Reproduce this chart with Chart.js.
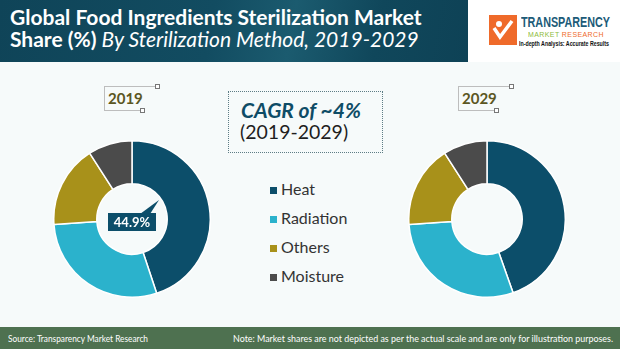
<!DOCTYPE html>
<html>
<head>
<meta charset="utf-8">
<script src="https://cdn.jsdelivr.net/npm/chart.js@4.4.0/dist/chart.umd.min.js"></script>
<style>
  body { margin: 0; width: 620px; height: 349px; overflow: hidden; position: relative;
         font-family: Lato, "Open Sans", sans-serif; background: #f6fafa; }
  .abs { position: absolute; }
  .fit { white-space: nowrap; transform-origin: 0 0; }
  #header { left: 0; top: 0; width: 468px; height: 62px;
            background: linear-gradient(100deg, #0f4458 0%, #124c61 45%, #1b5b6f 62%, #10475b 80%, #0e4256 100%); }
  #headerRight { left: 468px; top: 0; width: 152px; height: 62px; background: #fff; }
  #title { left: 10px; top: 6px; color: #fff; font-weight: bold; font-size: 21px; line-height: 22px; white-space: nowrap; }
  #title i { font-weight: normal; }
  #footer { left: 0; top: 327px; width: 620px; height: 22px; background: #4e7150; color: #fff; font-size: 10px; }
  #footer .fit { position: absolute; top: 5px; }
  .yearBox { width: 52px; height: 24px; border-top: 1px solid #bdbdbd; border-left: 1px solid #bdbdbd; }
  .yearBox .bot { position: absolute; left: -1px; top: 23px; width: 38px; height: 1px; background: #bdbdbd; }
  .yearBox .h { position: absolute; width: 3px; height: 3px; border: 1px solid #777; background: #fff; }
  .yearBox .t { position: absolute; left: 3px; top: 2px; font-weight: bold; font-size: 15px; color: #5b5622; }
  #cagr { left: 228px; top: 91px; width: 153px; height: 60px; border: 1.5px dotted #5d7c84; }
  #cagr .a { position: absolute; left: 12px; top: 5px; font-size: 21px; font-weight: bold; font-style: italic; color: #0e4c66; white-space: nowrap; }
  #cagr .b { position: absolute; left: 11px; top: 28px; font-size: 19.5px; color: #1e1e1e; white-space: nowrap; }
  #legend { left: 268px; top: 179px; }
  .item { position: absolute; left: 0; height: 20px; white-space: nowrap; font-size: 16px; color: #333; }
  .item .sw { position: absolute; left: 2px; top: 8px; width: 7px; height: 7px; }
  .item .lb { position: absolute; left: 13px; top: 0; }
  #logoBox { left: 489px; top: 15px; width: 28px; height: 30px; background: #ef6a2a; }
  #logo1 { left: 521px; top: 14px; font-size: 14px; font-weight: bold; color: #1c5b78; font-family: "Liberation Sans Narrow", "Liberation Sans", sans-serif; }
  #logo2 { left: 528px; top: 30px; font-size: 8px; font-family: "Liberation Sans", sans-serif; letter-spacing: 0.5px; }
  #logo3 { left: 519px; top: 40px; font-size: 6.5px; font-weight: bold; color: #111; font-family: "Liberation Sans", sans-serif; }
</style>
</head>
<body>
<div id="header" class="abs"></div>
<div id="headerRight" class="abs"></div>
<div id="title" class="abs">Global Food Ingredients Sterilization Market<br>Share (%) <i>By Sterilization Method, 2019-2029</i></div>

<div id="logoBox" class="abs">
  <svg width="28" height="30" viewBox="0 0 28 30"><path d="M5 13 L11 22 L23 6" stroke="#fff" stroke-width="3.5" fill="none"/><circle cx="10" cy="9" r="3" fill="#fff"/></svg>
</div>
<div id="logo1" class="abs fit" data-w="89">TRANSPARENCY</div>
<div id="logo2" class="abs fit" data-w="76"><span style="color:#8dbb3c">MARKET</span> <span style="color:#ef6a2a">RESEARCH</span></div>
<div id="logo3" class="abs fit" data-w="90">In-depth Analysis: Accurate Results</div>

<div id="box2019" class="abs yearBox" style="left:104px; top:86px;"></div>
<div id="box2029" class="abs yearBox" style="left:458px; top:86px;"></div>

<div id="cagr" class="abs"><div class="a">CAGR of ~4%</div><div class="b">(2019-2029)</div></div>

<div id="legend" class="abs"></div>

<canvas id="chart2019" class="abs" width="158" height="158" style="left:53px; top:140px;"></canvas>
<canvas id="chart2029" class="abs" width="158" height="158" style="left:408px; top:140px;"></canvas>

<div id="footer" class="abs">
  <div class="fit" data-w="140" style="left:8px;">Source: Transparency Market Research</div>
  <div class="fit" data-w="380" style="left:233px;">Note: Market shares are not depicted as per the actual scale and are only for illustration purposes.</div>
</div>

<script>
// Data
const years = ["2019", "2029"];
const categories = ["Heat", "Radiation", "Others", "Moisture"];
const share2019 = [44.9, 29.0, 17.0, 9.1];
const share2029 = [44.6, 29.3, 17.0, 9.1];
const colors = ["#0c4e6a", "#2bb2cc", "#a8911a", "#4b4b4b"];

// squeeze some texts to the width they have in the picture
document.querySelectorAll(".fit").forEach(el => {
  const w = el.getBoundingClientRect().width;
  const target = parseFloat(el.dataset.w);
  if (w > 0) el.style.transform = "scaleX(" + (target / w) + ")";
});

// Year boxes
function fillYearBox(id, year) {
  const box = document.getElementById(id);
  box.innerHTML =
    '<div class="t">' + year + '</div>' +
    '<div class="bot"></div>' +
    '<div class="h" style="left:50px; top:-3px;"></div>' +
    '<div class="h" style="left:35px; top:21px;"></div>';
}
fillYearBox("box2019", years[0]);
fillYearBox("box2029", years[1]);

// Legend
const legend = document.getElementById("legend");
for (let i = 0; i < categories.length; i++) {
  const item = document.createElement("div");
  item.className = "item";
  item.style.top = (i * 29) + "px";
  item.innerHTML = '<div class="sw" style="background:' + colors[i] + '"></div><div class="lb">' + categories[i] + '</div>';
  legend.appendChild(item);
}

// Callout label with the Heat share on the 2019 chart
const calloutPlugin = {
  id: "callout",
  afterDatasetsDraw(chart, args, opts) {
    if (!opts.text) return;
    const arc = chart.getDatasetMeta(0).data[0];
    const ctx = chart.ctx;
    const cx = arc.x, cy = arc.y;
    const bx = cx - 24, by = cy - 6, bw = 48, bh = 18;
    ctx.save();
    ctx.fillStyle = "#0c4e6a";
    ctx.beginPath();
    ctx.moveTo(cx + 8, by + 1);
    ctx.lineTo(cx + 27, cy - 19);
    ctx.lineTo(cx + 18, by + 1);
    ctx.closePath();
    ctx.fill();
    ctx.fillRect(bx, by, bw, bh);
    ctx.fillStyle = "#fff";
    ctx.font = "bold 13px Lato, sans-serif";
    ctx.textAlign = "center";
    ctx.textBaseline = "middle";
    ctx.fillText(opts.text, cx, by + bh / 2 + 1);
    ctx.restore();
  }
};

function makeDoughnut(canvasId, values, label) {
  const ctx = document.getElementById(canvasId).getContext("2d");
  return new Chart(ctx, {
    type: "doughnut",
    data: {
      labels: categories,
      datasets: [
        {
          data: values,
          backgroundColor: colors,
          borderColor: "#ffffff",
          borderWidth: 1.5,
        },
      ],
    },
    options: {
      responsive: false,
      animation: false,
      cutout: "45%",
      layout: { padding: 0 },
      plugins: {
        legend: { display: false },
        tooltip: { enabled: false },
        callout: { text: label },
      },
    },
    plugins: [calloutPlugin],
  });
}

makeDoughnut("chart2019", share2019, share2019[0].toFixed(1) + "%");
makeDoughnut("chart2029", share2029, null);
</script>
</body>
</html>
